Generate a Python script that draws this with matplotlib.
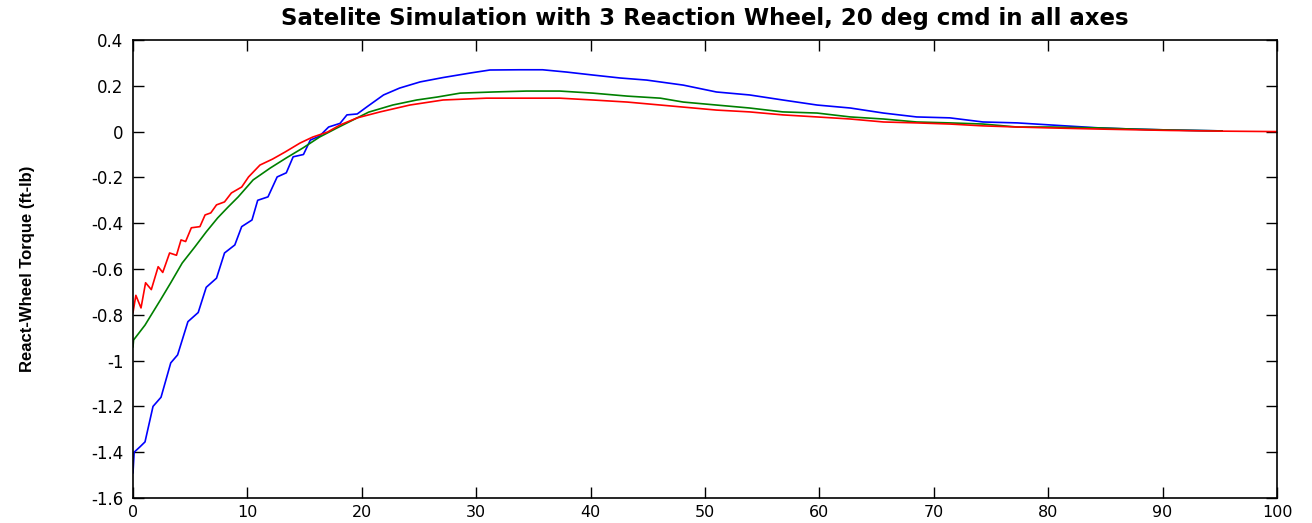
import matplotlib
matplotlib.use("Agg")
import matplotlib.pyplot as plt

# values (time in s, torque in ft-lb)
t_blue = [0, 0.1, 0.6, 1.05, 1.75, 2.45, 3.3, 3.9, 4.8, 5.7, 6.4, 7.3, 8.0, 8.9, 9.5,
          10.4, 10.9, 11.8, 12.6, 13.4, 14.0, 14.9, 15.5, 16.3, 17.1, 18.1, 18.7, 19.6,
          20.5, 21.9, 23.3, 25.1, 27.1, 29.5, 31.2, 33.8, 35.8, 37.9, 40.2, 42.6, 44.9,
          48.1, 51.0, 53.9, 56.8, 59.8, 62.7, 65.6, 68.5, 71.4, 74.3, 77.3, 80.2, 84.5,
          87.4, 90.6, 95.2]
v_blue = [-1.49, -1.40, -1.377, -1.355, -1.20, -1.16, -1.01, -0.975, -0.83, -0.79, -0.68,
          -0.64, -0.53, -0.495, -0.415, -0.386, -0.30, -0.285, -0.198, -0.18, -0.11, -0.10,
          -0.037, -0.02, 0.02, 0.036, 0.073, 0.077, 0.11, 0.16, 0.19, 0.217, 0.236, 0.256,
          0.269, 0.27, 0.27, 0.26, 0.247, 0.234, 0.225, 0.203, 0.173, 0.16, 0.138, 0.116,
          0.103, 0.081, 0.064, 0.06, 0.042, 0.038, 0.029, 0.016, 0.011, 0.007, 0.003]

t_green = [0, 0.05, 1.05, 1.6, 2.4, 3.3, 4.3, 5.4, 6.4, 7.4, 8.3, 9.2, 10.5, 12.0, 13.4,
           14.9, 16.3, 17.8, 19.2, 20.6, 22.7, 24.8, 26.6, 28.6, 31.5, 34.4, 37.3, 40.2,
           43.2, 46.1, 48.1, 51.0, 53.9, 56.8, 59.8, 62.7, 65.6, 68.5, 71.4, 74.3, 77.3,
           80.2, 84.5, 87.4, 90.6, 95.2]
v_green = [-0.94, -0.91, -0.845, -0.80, -0.735, -0.66, -0.574, -0.504, -0.438, -0.377,
           -0.33, -0.285, -0.211, -0.159, -0.115, -0.07, -0.024, 0.015, 0.05, 0.085, 0.116,
           0.138, 0.151, 0.168, 0.173, 0.177, 0.177, 0.168, 0.155, 0.146, 0.129, 0.116,
           0.103, 0.086, 0.081, 0.064, 0.055, 0.042, 0.038, 0.033, 0.02, 0.02, 0.016,
           0.011, 0.007, 0.003]

t_red = [0, 0.25, 0.7, 1.1, 1.6, 2.2, 2.6, 3.2, 3.8, 4.2, 4.6, 5.1, 5.85, 6.3, 6.8, 7.3,
         8.0, 8.6, 9.5, 10.1, 11.1, 12.2, 13.3, 14.6, 15.7, 17.0, 18.1, 19.6, 21.6, 24.2,
         27.1, 30.9, 34.4, 37.3, 40.2, 43.2, 46.1, 48.1, 51.0, 53.9, 56.8, 59.8, 62.7,
         65.6, 68.5, 71.4, 74.3, 77.3, 80.2, 84.5, 90.6, 95.2, 100]
v_red = [-0.79, -0.715, -0.77, -0.66, -0.69, -0.59, -0.615, -0.53, -0.54, -0.473, -0.48,
         -0.42, -0.415, -0.364, -0.355, -0.32, -0.307, -0.268, -0.242, -0.198, -0.146,
         -0.12, -0.089, -0.05, -0.024, -0.002, 0.029, 0.06, 0.086, 0.116, 0.138, 0.146,
         0.146, 0.146, 0.138, 0.129, 0.116, 0.107, 0.094, 0.086, 0.073, 0.064, 0.055,
         0.042, 0.038, 0.033, 0.025, 0.02, 0.016, 0.011, 0.005, 0.002, 0.0]

x_ticks = list(range(0, 101, 10))
y_ticks = [0.4, 0.2, 0, -0.2, -0.4, -0.6, -0.8, -1, -1.2, -1.4, -1.6]
y_labels = ["0.4", "0.2", "0", "-0.2", "-0.4", "-0.6", "-0.8", "-1", "-1.2", "-1.4", "-1.6"]

plt.rcParams['font.family'] = ['DejaVu Sans']

fig = plt.figure(figsize=(13.12, 5.23), dpi=100)
ax = fig.add_axes([133 / 1312, 1 - 498 / 523, (1277 - 133) / 1312, (498 - 40) / 523])

ax.plot(t_blue, v_blue, color=(0, 0, 1), lw=1.2)
ax.plot(t_green, v_green, color=(0, 0.5, 0), lw=1.2)
ax.plot(t_red, v_red, color=(1, 0, 0), lw=1.2)

ax.set_xlim(0, 100)
ax.set_ylim(-1.6, 0.4)
ax.set_xticks(x_ticks)
ax.set_yticks(y_ticks)
ax.set_yticklabels(y_labels)
ax.tick_params(direction='in', length=8, width=1, top=True, right=True)
ax.tick_params(axis='y', pad=7, labelsize=12)
ax.tick_params(axis='x', pad=5, labelsize=11.5)
for sp in ax.spines.values():
    sp.set_linewidth(1.2)

ax.set_title("Satelite Simulation with 3 Reaction Wheel, 20 deg cmd in all axes",
             fontsize=16.5, fontweight='bold', pad=11)
ax.set_ylabel("React-Wheel Torque (ft-lb)", fontsize=12, fontweight='bold',
              family=['Liberation Sans', 'DejaVu Sans'], labelpad=40)

fig.savefig("out.png", dpi=100)
